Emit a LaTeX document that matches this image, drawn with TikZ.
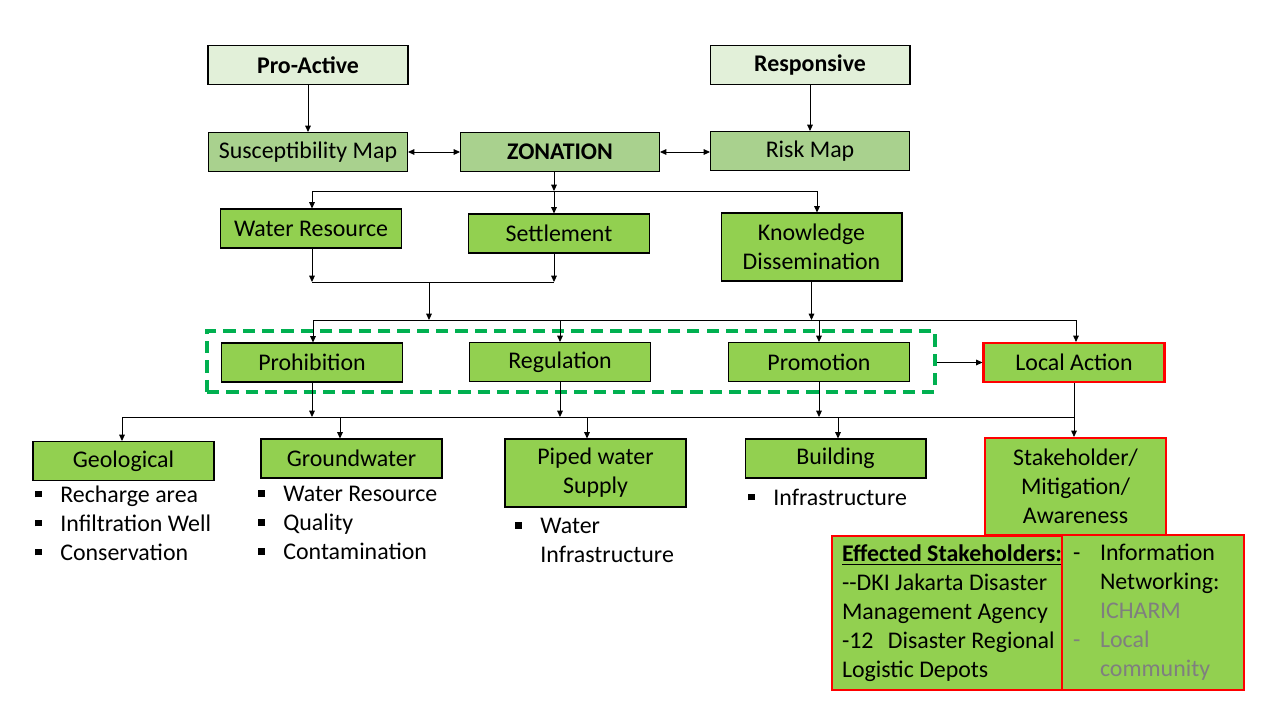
\documentclass[tikz,border=0pt]{standalone}
\usepackage{fontspec}
\setmainfont{Carlito}
\usetikzlibrary{arrows.meta}
\definecolor{palegreen}{HTML}{E2F0D9}
\definecolor{sagegreen}{HTML}{A9D18E}
\definecolor{leafgreen}{HTML}{92D050}
\definecolor{dashgreen}{HTML}{00B050}
\definecolor{notegray}{HTML}{7F7F7F}
\newcommand\sqb{\makebox[0.54cm][l]{\hspace{0.04cm}\rule[0.2em]{0.13cm}{0.13cm}}}
\newcommand\dsh{\makebox[0.54cm][l]{-}}
\begin{document}
\begin{tikzpicture}[x=0.02cm,y=-0.02cm,
    font=\fontsize{13.6}{16.5}\selectfont,
    box/.style={draw=black, line width=0.6pt, fill=leafgreen, align=center, inner sep=0pt,
        minimum width=3.62cm, minimum height=0.78cm},
    topbox/.style={box, fill=palegreen, minimum width=4cm, font=\fontsize{13.6}{16.5}\selectfont\bfseries},
    mapbox/.style={box, fill=sagegreen, minimum width=3.98cm},
    redbox/.style={box, draw=red, line width=1.2pt},
    notebox/.style={redbox, text width=#1, align=flush left},
    list/.style={anchor=west, align=left, inner sep=0pt},
    arr/.style={-{Triangle[length=3.6pt,width=3.2pt]}, line width=0.5pt},
    arrboth/.style={{Triangle[length=3.6pt,width=3.2pt]}-{Triangle[length=3.6pt,width=3.2pt]}, line width=0.5pt},
    link/.style={line width=0.5pt}]
\useasboundingbox (0,0) rectangle (1280,720);

\node[topbox] (pro) at (308,65) {Pro-Active};
\node[topbox] (resp) at (810,65) {Responsive};
\node[mapbox] (susc) at (308,152) {Susceptibility Map};
\node[mapbox, font=\fontsize{13.6}{16.5}\selectfont\bfseries] (zon) at (560,152) {ZONATION};
\node[mapbox] (risk) at (810,151) {Risk Map};
\node[box] (water) at (311,228.5) {Water Resource};
\node[box] (settle) at (559,233.5) {Settlement};
\node[box, minimum height=1.36cm] (know) at (811.5,247) {Knowledge\\Dissemination};
\node[box] (prohib) at (312,362.5) {Prohibition};
\node[box] (regul) at (560,362) {Regulation};
\node[box] (promo) at (819,362) {Promotion};
\node[redbox] (local) at (1074,362.5) {Local Action};
\node[draw=dashgreen, line width=2.3pt, dash pattern=on 7pt off 4pt, inner sep=0pt,
    minimum width=14.56cm, minimum height=1.22cm] (policy) at (571,361.5) {};

\node[box] (geo) at (123.5,461) {Geological};
\node[box] (ground) at (351.5,458.5) {Groundwater};
\node[box, minimum height=1.36cm] (piped) at (595.5,473) {Piped water\\Supply};
\node[box] (build) at (835.5,458.5) {Building};
\node[redbox, minimum height=1.94cm] (stake) at (1075.5,486.5) {Stakeholder/\\Mitigation/\\Awareness};
\node[notebox=4.2cm, minimum width=4.6cm, minimum height=3.08cm] (eff) at (947,613)
    {\mbox{\underline{\textbf{Effected Stakeholders:}}}\\\mbox{-{}-DKI Jakarta Disaster}\\
     \mbox{Management Agency}\\\mbox{-12\hspace{0.6em}Disaster Regional}\\\mbox{Logistic Depots}};
\node[notebox=3.2cm, minimum width=3.64cm, minimum height=3.1cm] (info) at (1153,612.5)
    {\mbox{\dsh Information}\\\hspace*{0.54cm}Networking:\\\hspace*{0.54cm}\textcolor{notegray}{ICHARM}\\
     \mbox{\textcolor{notegray}{\dsh Local}}\\\hspace*{0.54cm}\textcolor{notegray}{community}};

\node[list] (geolist) at (33,523) {\sqb Recharge area\\\sqb Infiltration Well\\\sqb Conservation};
\node[list] (groundlist) at (256,523) {\sqb Water Resource\\\sqb Quality\\\sqb Contamination};
\node[list] (pipedlist) at (513,540.5) {\sqb Water\\\hspace*{0.54cm}Infrastructure};
\node[list] (buildlist) at (746,497) {\sqb Infrastructure};

\draw[arr] (pro) -- (susc);
\draw[arr] (resp) -- (risk);
\draw[arrboth] (susc) -- (zon);
\draw[arrboth] (zon.east) -- (zon.east -| risk.west);

\coordinate (b1w) at (312,191);
\coordinate (b1c) at (554,191);
\coordinate (b1e) at (817,191);
\draw[link] (b1w) -- (b1e);
\draw[arr] (zon.south -| b1c) -- (b1c);
\draw[arr] (b1w) -- (b1w |- water.north);
\draw[arr] (b1c) -- (b1c |- settle.north);
\draw[arr] (b1e) -- (b1e |- know.north);

\coordinate (b2w) at (312,282);
\coordinate (b2c) at (429,282);
\coordinate (b2e) at (554,282);
\draw[link] (b2w) -- (b2e);
\draw[arr] (water.south -| b2w) -- (b2w);
\draw[arr] (settle.south -| b2e) -- (b2e);

\coordinate (b3w) at (313,320);
\coordinate (b3e) at (1076,320);
\draw[link] (b3w) -- (b3e);
\draw[arr] (b2c) -- (b2c |- b3w);
\draw[arr] (know.south) -- (know.south |- b3w);
\draw[arr] (b3w) -- (b3w |- prohib.north);
\draw[arr] (regul.north |- b3w) -- (regul.north);
\draw[arr] (promo.north |- b3w) -- (promo.north);
\draw[arr] (b3e) -- (b3e |- local.north);
\draw[arr] (policy.east |- local.west) -- (local.west);

\coordinate (b4w) at (122,417);
\coordinate (b4e) at (1075,417);
\coordinate (t2) at (340,417);
\coordinate (t3) at (587,417);
\coordinate (t4) at (838,417);
\draw[link] (b4w) -- (b4e);
\draw[arr] (prohib.south) -- (prohib.south |- b4w);
\draw[arr] (regul.south) -- (regul.south |- b4w);
\draw[arr] (promo.south) -- (promo.south |- b4w);
\draw[arr] (local.south) -- (local.south |- stake.north);
\draw[arr] (b4w) -- (b4w |- geo.north);
\draw[arr] (t2) -- (t2 |- ground.north);
\draw[arr] (t3) -- (t3 |- piped.north);
\draw[arr] (t4) -- (t4 |- build.north);
\end{tikzpicture}
\end{document}
